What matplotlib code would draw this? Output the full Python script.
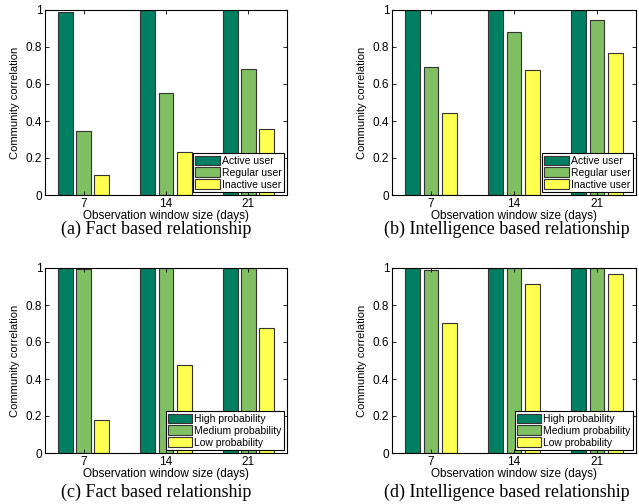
import matplotlib.pyplot as plt
import numpy as np

# -------------------------------------------------
# DATA
# -------------------------------------------------

windows = ["7", "14", "21"]

user_labels = ["Active user", "Regular user", "Inactive user"]
prob_labels = ["High probability", "Medium probability", "Low probability"]

fact_active = [0.99, 1.0, 1.0]
fact_regular = [0.345, 0.55, 0.68]
fact_inactive = [0.11, 0.235, 0.355]

intel_active = [1.0, 1.0, 1.0]
intel_regular = [0.69, 0.88, 0.945]
intel_inactive = [0.445, 0.675, 0.77]

fact_high = [1.0, 1.0, 1.0]
fact_medium = [0.995, 1.0, 1.0]
fact_low = [0.18, 0.475, 0.675]

intel_high = [1.0, 1.0, 1.0]
intel_medium = [0.99, 1.0, 1.0]
intel_low = [0.705, 0.915, 0.965]

captions = [
    "(a) Fact based relationship",
    "(b) Intelligence based relationship",
    "(c) Fact based relationship",
    "(d) Intelligence based relationship",
]

# -------------------------------------------------
# STYLE
# -------------------------------------------------

colors = ["#007f62", "#80c062", "#ffff50"]
plt.rcParams["font.family"] = ["Liberation Sans", "DejaVu Sans"]

W, H = 639, 504
fig = plt.figure(figsize=(W / 100, H / 100), dpi=100)

# axes boxes in pixels: left, top, right, bottom
boxes = [
    (45, 10, 287, 195),
    (392, 10, 636, 195),
    (45, 268, 287, 453),
    (392, 268, 636, 453),
]

# caption anchor (centre x, top y) in pixels
caption_pos = [(156, 221), (507, 221), (156, 484), (507, 484)]

panels = [
    ([fact_active, fact_regular, fact_inactive], user_labels),
    ([intel_active, intel_regular, intel_inactive], user_labels),
    ([fact_high, fact_medium, fact_low], prob_labels),
    ([intel_high, intel_medium, intel_low], prob_labels),
]

x = np.arange(1, len(windows) + 1)
offsets = [-0.22, 0.0, 0.22]
width = 0.18

for (series, labels), box, caption, cpos in zip(panels, boxes, captions, caption_pos):
    l, t, r, b = box
    ax = fig.add_axes([l / W, 1 - b / H, (r - l) / W, (b - t) / H])

    for values, off, color, label in zip(series, offsets, colors, labels):
        ax.bar(
            x + off,
            values,
            width=width,
            color=color,
            edgecolor="#333333",
            linewidth=0.8,
            label=label,
        )

    ax.set_xlim(0.53, 3.47)
    ax.set_ylim(0, 1)
    ax.set_xticks(x)
    ax.set_xticklabels(windows)
    ax.set_yticks([0, 0.2, 0.4, 0.6, 0.8, 1])
    ax.set_yticklabels(["0", "0.2", "0.4", "0.6", "0.8", "1"])
    ax.tick_params(
        direction="in",
        top=True,
        right=True,
        labelsize=8.5,
        length=3,
        width=0.6,
        pad=2,
    )
    for spine in ax.spines.values():
        spine.set_linewidth(0.8)

    ax.set_xlabel("Observation window size (days)", fontsize=8.5, labelpad=0)
    ax.set_ylabel("Community correlation", fontsize=8, labelpad=4)

    leg = ax.legend(
        loc="lower right",
        fontsize=7.5,
        frameon=True,
        fancybox=False,
        borderpad=0.2,
        labelspacing=0.15,
        handlelength=2.35,
        handleheight=1.05,
        handletextpad=0.2,
        borderaxespad=0.3,
    )
    leg.get_frame().set_edgecolor("black")
    leg.get_frame().set_linewidth(0.8)
    leg.get_frame().set_alpha(1)

    fig.text(
        cpos[0] / W,
        1 - cpos[1] / H,
        caption,
        ha="center",
        va="top",
        fontsize=13,
        family="Liberation Serif",
    )

fig.savefig("out.png", dpi=100)
